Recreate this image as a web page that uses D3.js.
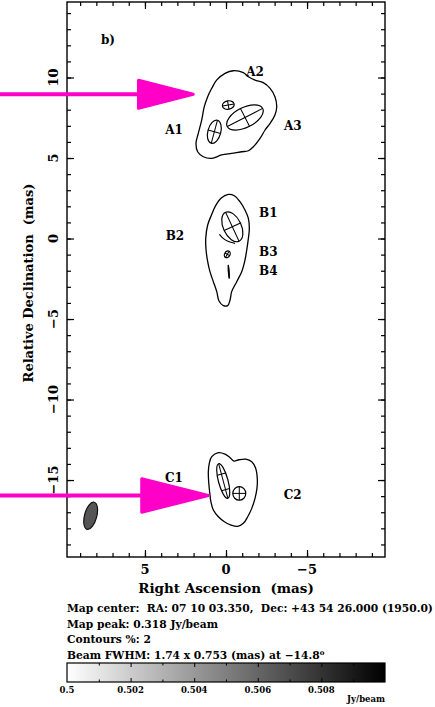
<!DOCTYPE html>
<html lang="en">
<head>
<meta charset="utf-8">
<title>VLBI map b)</title>
<script src="https://d3js.org/d3.v7.min.js"></script>
<style>
  body { margin: 0; background: #fff; }
  text { font-family: "DejaVu Serif", serif; font-weight: bold; fill: #000; }
</style>
</head>
<body>
<div id="chart"></div>
<script>
// axis limits (mas) and ticks
var xLimits = [9.81, -9.81];
var yLimits = [14.69, -19.78];
var xMajorTicks = [5, 0, -5];
var yMajorTicks = [10, 5, 0, -5, -10, -15];
var xMinorTicks = d3.range(-9, 10, 1);
var yMinorTicks = d3.range(-19, 15, 1);

// 2% contours, [RA, Dec] in mas
var contourA = [[0.88,9.33],[0.58,9.84],[0.06,10.26],[-0.45,10.42],[-1.07,10.30],[-1.38,10.05],
  [-1.79,9.84],[-2.30,9.68],[-2.72,9.33],[-3.02,8.81],[-3.13,8.19],[-3.02,7.67],[-2.72,7.15],
  [-2.41,6.74],[-2.10,6.22],[-1.69,5.70],[-1.38,5.45],[-0.97,5.39],[-0.35,5.29],[0.27,5.19],
  [0.88,4.98],[1.40,5.08],[1.75,5.39],[1.85,5.91],[1.71,6.53],[1.50,7.36],[1.34,8.19],[1.13,8.81]];
var contourB = [[-0.14,2.74],[-0.51,2.66],[-0.86,2.29],[-1.17,1.77],[-1.38,1.25],[-1.44,0.63],
  [-1.38,0.01],[-1.28,-0.71],[-1.17,-1.34],[-0.97,-2.06],[-0.66,-2.68],[-0.35,-3.30],[-0.25,-3.82],
  [-0.10,-4.17],[0.16,-4.17],[0.43,-3.88],[0.57,-3.30],[0.78,-2.68],[0.99,-2.06],[1.13,-1.44],
  [1.23,-0.71],[1.25,0.01],[1.13,0.84],[0.88,1.50],[0.64,2.04],[0.31,2.50]];
var contourC = [[1.03,-13.96],[0.88,-13.55],[0.47,-13.30],[0.06,-13.39],[-0.25,-13.61],[-0.49,-13.82],
  [-0.80,-13.74],[-1.22,-13.70],[-1.59,-13.86],[-1.83,-14.27],[-1.93,-14.90],[-1.91,-15.52],
  [-1.79,-16.14],[-1.59,-16.76],[-1.34,-17.28],[-1.07,-17.69],[-0.72,-17.88],[-0.31,-17.80],
  [0.10,-17.59],[0.47,-17.28],[0.78,-16.86],[0.93,-16.35],[1.01,-15.73],[1.07,-15.11],[1.09,-14.48]];

// model components: [name, RA, Dec, major, minor, PA, extra minor lines]
var components = [
  ["A1", 0.72, 6.63, 1.48, 0.80, -15, 0],
  ["A2", -0.14, 8.29, 0.74, 0.52, -80, 0],
  ["A3", -1.17, 7.52, 2.47, 1.23, -63, 0],
  ["B1", -0.39, 0.73, 1.98, 1.11, 25, 0],
  ["B3", -0.08, -0.98, 0.45, 0.33, -30, 0],
  ["B4", -0.17, -2.06, 0.83, 0.03, 4, 0],
  ["C1", 0.17, -15.06, 2.22, 0.59, 15, 2],
  ["C2", -0.82, -15.83, 0.85, 0.80, 0, 0]
];
var tailB2 = [[0.41,0.26],[0.22,0.03],[-0.04,-0.16],[-0.56,-0.30]];

var labelNames = ["b)", "A1", "A2", "A3", "B1", "B2", "B3", "B4", "C1", "C2"];
var labelPos = [[7.28,12.33],[3.21,6.74],[-1.79,10.36],[-4.12,7.01],[-2.61,1.57],[3.15,0.16],
  [-2.61,-0.82],[-2.61,-2.00],[3.21,-14.86],[-4.12,-15.93]];

// restoring beam: RA, Dec, major, minor, PA
var beam = [8.35, -17.22, 1.74, 0.753, -14.8];

// arrows: tip, head base RA, head half width, tail RA
var arrowTips = [[2.02, 8.96], [1.09, -15.96]];
var arrowBaseX = [5.40, 5.20];
var arrowHalf = [0.87, 1.04];
var arrowTailX = 13.95;

var infoLines = ["Map center:  RA: 07 10 03.350,  Dec: +43 54 26.000 (1950.0)",
  "Map peak: 0.318 Jy/beam", "Contours %: 2", "Beam FWHM: 1.74 x 0.753 (mas) at \u221214.8"];
var cbLimits = [0.5, 0.51];
var cbLabels = [0.5, 0.502, 0.504, 0.506, 0.508];
var cbMinor = [0.501, 0.503, 0.505, 0.507, 0.509];

var W = 435, H = 707;
var svg = d3.select("#chart").append("svg").attr("width", W).attr("height", H);

var x = d3.scaleLinear().domain(xLimits).range([67, 385]);
var y = d3.scaleLinear().domain(yLimits).range([2, 557]);
var kx = Math.abs(x(1) - x(0)), ky = Math.abs(y(1) - y(0));
var pLeft = x.range()[0], pRight = x.range()[1], pTop = y.range()[0], pBottom = y.range()[1];

function tickAxis(axis, ticks, size, tr) {
  var g = svg.append("g").attr("transform", tr)
    .call(axis.tickValues(ticks).tickSizeInner(-size).tickSizeOuter(0).tickFormat(""));
  g.select(".domain").remove();
  g.selectAll("line").attr("stroke", "#000").attr("stroke-width", 1.2);
  return g;
}
[[xMinorTicks, 4], [xMajorTicks, 7]].forEach(function(t) {
  tickAxis(d3.axisBottom(x), t[0], t[1], "translate(0," + pBottom + ")");
  tickAxis(d3.axisTop(x), t[0], t[1], "translate(0," + pTop + ")");
});
[[yMinorTicks, 4], [yMajorTicks, 7]].forEach(function(t) {
  tickAxis(d3.axisLeft(y), t[0], t[1], "translate(" + pLeft + ",0)");
  tickAxis(d3.axisRight(y), t[0], t[1], "translate(" + pRight + ",0)");
});

svg.append("rect").attr("x", pLeft).attr("y", pTop)
  .attr("width", pRight - pLeft).attr("height", pBottom - pTop)
  .attr("fill", "none").attr("stroke", "#000").attr("stroke-width", 1.4);

var fmt = d3.format("d");
svg.selectAll(".xlab").data(xMajorTicks).enter().append("text")
  .attr("x", function(d) { return x(d); }).attr("y", 574)
  .attr("text-anchor", "middle").style("font-size", "13px")
  .text(function(d) { return fmt(d); });
svg.selectAll(".ylab").data(yMajorTicks).enter().append("text")
  .attr("transform", function(d) { return "translate(57.5," + y(d) + ") rotate(-90)"; })
  .attr("text-anchor", "middle").style("font-size", "13px")
  .text(function(d) { return fmt(d); });

svg.append("text").attr("x", (pLeft + pRight) / 2).attr("y", 593)
  .attr("text-anchor", "middle").style("font-size", "13.5px").style("white-space", "pre")
  .text("Right Ascension  (mas)");
svg.append("text").attr("transform", "translate(33,283) rotate(-90)")
  .attr("text-anchor", "middle").style("font-size", "13px").style("white-space", "pre")
  .text("Relative Declination  (mas)");

// contours
var line = d3.line().x(function(d) { return x(d[0]); }).y(function(d) { return y(d[1]); })
  .curve(d3.curveCatmullRomClosed.alpha(0.5));
[contourA, contourB, contourC].forEach(function(c) {
  svg.append("path").attr("d", line(c)).attr("fill", "none")
    .attr("stroke", "#000").attr("stroke-width", 1.3);
});
svg.append("path")
  .attr("d", d3.line().x(function(d) { return x(d[0]); }).y(function(d) { return y(d[1]); })
    .curve(d3.curveBasis)(tailB2))
  .attr("fill", "none").attr("stroke", "#000").attr("stroke-width", 1.2);

// components
components.forEach(function(c) {
  var rx = c[4] / 2 * kx, ry = c[3] / 2 * ky;
  var g = svg.append("g")
    .attr("transform", "translate(" + x(c[1]) + "," + y(c[2]) + ") rotate(" + (-c[5]) + ")");
  g.append("ellipse").attr("rx", Math.max(rx, 0.4)).attr("ry", ry)
    .attr("fill", "none").attr("stroke", "#000").attr("stroke-width", 1.2);
  g.append("line").attr("x1", 0).attr("x2", 0).attr("y1", -ry).attr("y2", ry)
    .attr("stroke", "#000").attr("stroke-width", 1);
  var offs = c[6] ? [-0.2, 0.25] : [0];
  offs.forEach(function(o) {
    var yy = o * ry * 2, w = rx * Math.sqrt(Math.max(0, 1 - (yy * yy) / (ry * ry)));
    g.append("line").attr("x1", -w).attr("x2", w).attr("y1", yy).attr("y2", yy)
      .attr("stroke", "#000").attr("stroke-width", 1);
  });
});

// beam
svg.append("ellipse")
  .attr("transform", "translate(" + x(beam[0]) + "," + y(beam[1]) + ") rotate(" + (-beam[4]) + ")")
  .attr("rx", beam[3] / 2 * kx).attr("ry", beam[2] / 2 * ky)
  .attr("fill", "#555").attr("stroke", "#111").attr("stroke-width", 1.2);

// labels
svg.selectAll(".clab").data(labelNames).enter().append("text")
  .attr("x", function(d, i) { return x(labelPos[i][0]); })
  .attr("y", function(d, i) { return y(labelPos[i][1]); })
  .attr("dy", "0.35em").attr("text-anchor", "middle").style("font-size", "12px")
  .text(function(d) { return d; });

// magenta arrows
var pink = "#ff00c8";
arrowTips.forEach(function(t, i) {
  svg.append("line").attr("x1", x(arrowTailX)).attr("x2", x(arrowBaseX[i]) + 2)
    .attr("y1", y(t[1])).attr("y2", y(t[1]))
    .attr("stroke", pink).attr("stroke-width", 4);
  var pts = [[arrowBaseX[i], t[1] + arrowHalf[i]], [t[0], t[1]], [arrowBaseX[i], t[1] - arrowHalf[i]]];
  svg.append("polygon")
    .attr("points", pts.map(function(p) { return x(p[0]) + "," + y(p[1]); }).join(" "))
    .attr("fill", pink).attr("stroke", pink).attr("stroke-width", 3)
    .attr("stroke-linejoin", "round");
});

// info text
var info = svg.append("g");
infoLines.forEach(function(s, i) {
  var t = info.append("text").attr("x", pLeft).attr("y", 612 + i * 15.5)
    .style("font-size", "10.7px").style("white-space", "pre").text(s);
  if (i === 3) t.append("tspan").attr("dy", "-0.45em").style("font-size", "7px").text("o");
});

// colour bar
var cb = d3.scaleLinear().domain(cbLimits).range([pLeft, pRight]);
var cbTop = 663, cbBot = 682;
var grad = svg.append("defs").append("linearGradient").attr("id", "greys");
grad.append("stop").attr("offset", "0%").attr("stop-color", "#fff");
grad.append("stop").attr("offset", "100%").attr("stop-color", "#000");
svg.append("rect").attr("x", cb.range()[0]).attr("y", cbTop)
  .attr("width", cb.range()[1] - cb.range()[0]).attr("height", cbBot - cbTop)
  .attr("fill", "url(#greys)").attr("stroke", "#000").attr("stroke-width", 1.2);

function cbTicks(axis, vals, size, tr) {
  var g = svg.append("g").attr("transform", tr)
    .call(axis.tickValues(vals).tickSizeInner(-size).tickSizeOuter(0).tickFormat(""));
  g.select(".domain").remove();
  g.selectAll("line").attr("stroke", "#000").attr("stroke-width", 1);
}
[[cbMinor, 2.5], [cbLabels.slice(1), 4]].forEach(function(t) {
  cbTicks(d3.axisTop(cb), t[0], t[1], "translate(0," + cbTop + ")");
  cbTicks(d3.axisBottom(cb), t[0], t[1], "translate(0," + cbBot + ")");
});
svg.selectAll(".cblab").data(cbLabels).enter().append("text")
  .attr("x", function(d) { return cb(d); }).attr("y", 693)
  .attr("text-anchor", "middle").style("font-size", "8.5px")
  .text(function(d) { return +d.toFixed(3); });
svg.append("text").attr("x", cb.range()[1]).attr("y", 702)
  .attr("text-anchor", "end").style("font-size", "8.5px").text("Jy/beam");
</script>
</body>
</html>
